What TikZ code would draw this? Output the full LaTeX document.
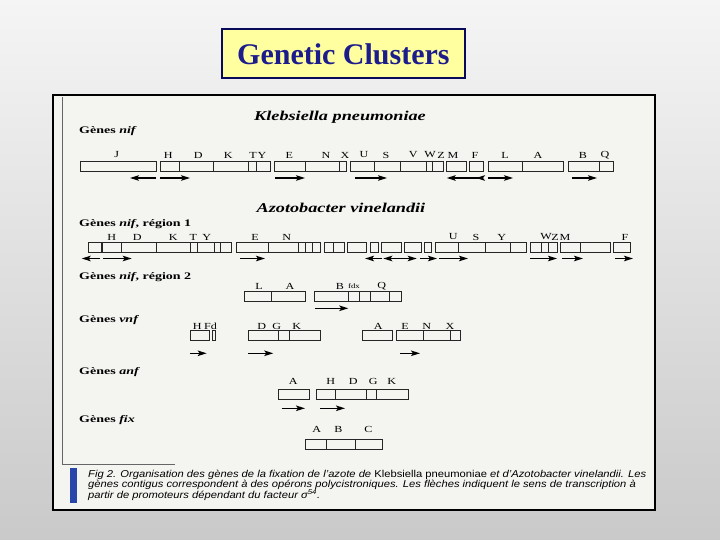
\documentclass[tikz,border=0pt]{standalone}
\usepackage{fontspec}
\setmainfont{Liberation Serif}
\setsansfont{Liberation Sans}
\usetikzlibrary{arrows.meta}
\definecolor{titlefill}{RGB}{255,255,160}
\definecolor{titleblue}{RGB}{28,28,140}
\definecolor{navyline}{RGB}{10,10,90}
\definecolor{paper}{RGB}{244,244,241}
\definecolor{capblue}{RGB}{40,70,170}
\newcounter{lbl}
\newcommand\gl[3]{\stepcounter{lbl}\node[glab] (g\arabic{lbl}) at (#1,#2) {\scalebox{1.3}[1]{#3}};}
\newcommand\gbx[4]{\draw[gb] (#1,#3) rectangle (#2,#3+10);
  \foreach \d in {#4}{\draw[gb] (\d,#3) -- (\d,#3+10);}}
\newcommand\rar[3]{\draw[tr] (#1,#3) -- (#2,#3);}
\begin{document}
\begin{tikzpicture}[x=1pt,y=-1pt,
  gb/.style={draw=black!85,line width=0.8pt},
  ahead/.tip={Stealth[length=9pt,width=5.5pt,inset=2pt]},
  tr/.style={line width=1.5pt,-ahead},
  glab/.style={inner sep=0pt,font=\fontsize{9.3}{10}\selectfont},
  sec/.style={anchor=west,inner sep=0pt,font=\fontsize{10}{11}\selectfont},
  head/.style={inner sep=0pt,font=\fontsize{13.5}{14}\selectfont},
  captxt/.style={anchor=west,inner sep=0pt,font=\sffamily\itshape\fontsize{10}{11}\selectfont}]
\useasboundingbox (0,0) rectangle (720,540);
\shade[top color=gray!8,bottom color=gray!42] (0,0) rectangle (720,540);
% title
\node[draw=navyline,line width=1.6pt,fill=titlefill,minimum width=243pt,minimum height=49pt,
  inner sep=0pt,text=titleblue,font=\fontsize{30}{32}\selectfont\bfseries] (title) at (343.4,53.8) {Genetic Clusters};
% scanned figure frame
\draw[line width=1.5pt,fill=paper] (53,95) rectangle (655,510);
\draw[black!60,line width=0.8pt] (62,97) -- (62,464) -- (175,464);
% headings
\node[head] (kp) at (340,117) {\scalebox{1.35}[1]{\textbf{\textit{Klebsiella pneumoniae}}}};
\node[head] (av) at (341,208) {\scalebox{1.35}[1]{\textbf{\textit{Azotobacter vinelandii}}}};
\node[sec] (s1) at (79,131) {\scalebox{1.4}[1]{\textbf{Gènes \textit{nif}}}};
\node[sec] (s2) at (79,224) {\scalebox{1.4}[1]{\textbf{Gènes \textit{nif}, région 1}}};
\node[sec] (s3) at (79,277) {\scalebox{1.4}[1]{\textbf{Gènes \textit{nif}, région 2}}};
\node[sec] (s4) at (79,320) {\scalebox{1.4}[1]{\textbf{Gènes \textit{vnf}}}};
\node[sec] (s5) at (79,372) {\scalebox{1.4}[1]{\textbf{Gènes \textit{anf}}}};
\node[sec] (s6) at (79,420) {\scalebox{1.4}[1]{\textbf{Gènes \textit{fix}}}};
% ---- row 1: Klebsiella nif
\gbx{80.7}{156.7}{161}{80.7}
\gbx{160.7}{270}{161}{179.3,213.3,248.3,256.7}
\gbx{274}{346.7}{161}{305,339.3}
\gbx{350.7}{443.5}{161}{374,400.7,426.7,432.7}
\gbx{446.7}{466.7}{161}{446.7}
\gbx{469.3}{483.3}{161}{469.3}
\gbx{488.3}{563.3}{161}{522.7}
\gbx{568.3}{613.3}{161}{599.3}
\gl{116.7}{155}{J}\gl{168.3}{155}{H}\gl{198.3}{155}{D}\gl{228.3}{155}{K}
\gl{253}{155}{T}\gl{262}{155}{Y}\gl{289.3}{155}{E}\gl{326}{155}{N}\gl{345}{155}{X}
\gl{364}{155}{U}\gl{386}{155}{S}\gl{413.3}{155}{V}\gl{430}{155}{W}\gl{441}{155}{Z}
\gl{453}{155}{M}\gl{475}{155}{F}\gl{505}{155}{L}\gl{538}{155}{A}\gl{583}{155}{B}\gl{605}{155}{Q}
\rar{156}{130}{178}
\rar{160}{190}{178}
\rar{275}{305}{178}
\rar{355}{387}{178}
\draw[line width=1.5pt,ahead-{ahead[reversed]}] (446.7,178) -- (485,178);
\rar{488}{513}{178}
\rar{572}{597}{178}
% ---- row 2: Azotobacter nif region 1
\gbx{88}{101.7}{242}{88}
\gbx{102.7}{231.7}{242}{121.7,156.7,190,197.3,214,220.7}
\gbx{236.7}{320.7}{242}{268.3,298.3,305,312.7}
\gbx{324}{344}{242}{333.3}
\gbx{347.3}{366.7}{242}{347.3}
\gbx{370}{378.3}{242}{370}
\gbx{381.7}{401.7}{242}{381.7}
\gbx{404}{421.7}{242}{404}
\gbx{424}{431.7}{242}{424}
\gbx{435}{526}{242}{458.3,485,510.7}
\gbx{530.7}{557.3}{242}{541.7,548.3}
\gbx{560.7}{610.7}{242}{580}
\gbx{613.3}{630}{242}{613.3}
\gl{111.7}{237}{H}\gl{137.3}{237}{D}\gl{173.3}{237}{K}\gl{193.3}{237}{T}\gl{206.7}{237}{Y}
\gl{255}{237}{E}\gl{286.7}{237}{N}\gl{453.3}{237}{U}\gl{476}{237}{S}\gl{501.7}{237}{Y}
\gl{546}{237}{W}\gl{555}{237}{Z}\gl{565}{237}{M}\gl{625}{237}{F}
\rar{100}{81.7}{258.5}
\rar{103.3}{131.7}{258.5}
\rar{240}{265}{258.5}
\rar{381.7}{365}{258.5}
\draw[line width=1.5pt,ahead-ahead] (383.3,258.5) -- (416.7,258.5);
\rar{420}{437}{258.5}
\rar{439}{468}{258.5}
\rar{530}{557}{258.5}
\rar{562}{583}{258.5}
\rar{615}{633}{258.5}
% ---- row 3: nif region 2
\gbx{244.3}{305.7}{291}{271.7}
\gbx{314}{401.7}{291}{348.3,359.3,370,389.3}
\gl{259}{286}{L}\gl{290}{286}{A}\gl{340}{286}{B}
\stepcounter{lbl}\node[glab,font=\fontsize{6.8}{7}\selectfont] (g\arabic{lbl}) at (354,286.5) {\scalebox{1.3}[1]{fdx}};
\gl{381.7}{286}{Q}
\rar{315}{348.3}{308.3}
% ---- row 4: vnf
\gbx{190.7}{209.3}{330}{190.7}
\gbx{212.7}{215.3}{330}{212.7}
\gbx{248.3}{320}{330}{278.3,289.3}
\gbx{362.3}{392.3}{330}{362.3}
\gbx{396}{460}{330}{423.3,450}
\gl{197.3}{326}{H}\gl{210.5}{326}{Fd}\gl{261.7}{326}{D}\gl{276.7}{326}{G}\gl{296.7}{326}{K}
\gl{378.3}{326}{A}\gl{405}{326}{E}\gl{426.7}{326}{N}\gl{450}{326}{X}
\rar{190}{206.7}{353.3}
\rar{248.3}{273.3}{353.3}
\rar{400}{420}{353.3}
% ---- row 5: anf
\gbx{278.3}{309.3}{389.5}{278.3}
\gbx{316.7}{408.3}{389.5}{335,366,376.7}
\gl{293.3}{381.7}{A}\gl{330.7}{381.7}{H}\gl{353.3}{381.7}{D}\gl{373.3}{381.7}{G}\gl{391.7}{381.7}{K}
\rar{281.7}{305}{408.3}
\rar{320}{345}{408.3}
% ---- row 6: fix
\gbx{305.6}{382}{439}{326,355}
\gl{316.7}{429.5}{A}\gl{338.3}{429.5}{B}\gl{368.3}{429.5}{C}
% caption
\fill[capblue] (70,468) rectangle (77,503);
\node[captxt] (c1) at (88,475) {\scalebox{1.12}[1]{Fig 2. Organisation des gènes de la fixation de l'azote de {\upshape Klebsiella pneumoniae} et d'Azotobacter vinelandii. Les}};
\node[captxt] (c2) at (88,485) {\scalebox{1.12}[1]{gènes contigus correspondent à des opérons polycistroniques. Les flèches indiquent le sens de transcription à}};
\node[captxt] (c3) at (88,495) {\scalebox{1.12}[1]{partir de promoteurs dépendant du facteur σ\textsuperscript{54}.}};
\end{tikzpicture}
\end{document}
